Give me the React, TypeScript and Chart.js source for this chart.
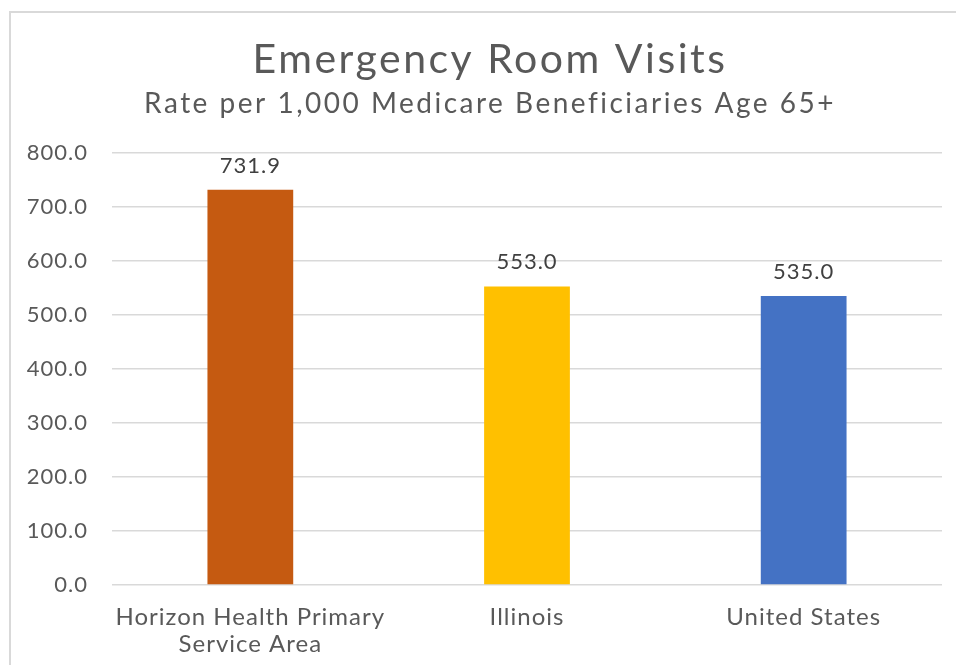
import React, { useEffect, useRef } from "react";
import { Chart, registerables } from "chart.js";

Chart.register(...registerables);

const categories: (string | string[])[] = [
  ["Horizon Health Primary", "Service Area"],
  "Illinois",
  "United States",
];
const values: number[] = [731.9, 553.0, 535.0];
const barColors: string[] = ["#C55A11", "#FFC000", "#4472C4"];
const titleText = "Emergency Room Visits";
const subtitleText = "Rate per 1,000 Medicare Beneficiaries Age 65+";
const yMin = 0;
const yMax = 800;
const yStep = 100;

const FONT = "Lato, 'Open Sans', sans-serif";

const spacingPlugin = {
  id: "spacing",
  beforeDraw(chart: any) {
    (chart.ctx as any).letterSpacing = "1px";
  },
};

const titlePlugin = {
  id: "customTitles",
  afterDraw(chart: any) {
    const ctx = chart.ctx;
    const cx = chart.width / 2 + 12;
    ctx.save();
    ctx.fillStyle = "#595959";
    ctx.textAlign = "center";
    ctx.textBaseline = "alphabetic";
    ctx.font = `41px ${FONT}`;
    (ctx as any).letterSpacing = "2.5px";
    ctx.fillText(titleText, cx, 73);
    ctx.font = `28px ${FONT}`;
    (ctx as any).letterSpacing = "2.5px";
    ctx.fillText(subtitleText, cx, 113);
    ctx.restore();
  },
};

const dataLabelPlugin = {
  id: "dataLabels",
  afterDatasetsDraw(chart: any) {
    const ctx = chart.ctx;
    const meta = chart.getDatasetMeta(0);
    const ds = chart.data.datasets[0];
    ctx.save();
    ctx.font = `22px ${FONT}`;
    ctx.fillStyle = "#404040";
    ctx.textAlign = "center";
    ctx.textBaseline = "middle";
    (ctx as any).letterSpacing = "1px";
    meta.data.forEach((el: any, i: number) => {
      const v = ds.data[i] as number;
      ctx.fillText(v.toFixed(1), el.x, el.y - 24);
    });
    ctx.restore();
  },
};

export default function App() {
  const ref = useRef<HTMLCanvasElement | null>(null);

  useEffect(() => {
    document.body.style.overflow = "hidden";
    const chart = new Chart(ref.current as HTMLCanvasElement, {
      type: "bar",
      data: {
        labels: categories,
        datasets: [
          {
            data: values,
            backgroundColor: barColors,
            borderWidth: 0,
            barPercentage: 0.31,
            categoryPercentage: 1,
          },
        ],
      },
      options: {
        responsive: false,
        animation: false,
        devicePixelRatio: 1,
        layout: { padding: { top: 153, left: 10, right: 14, bottom: 0 } },
        plugins: {
          legend: { display: false },
          tooltip: { enabled: false },
          title: { display: false },
          subtitle: { display: false },
        },
        scales: {
          x: {
            grid: { display: false, drawTicks: false },
            border: { display: false },
            ticks: {
              color: "#595959",
              font: { family: FONT, size: 24, lineHeight: 1.15 },
              padding: 18,
              maxRotation: 0,
              autoSkip: false,
            },
            afterFit(scale: any) {
              scale.height = 80;
            },
          },
          y: {
            min: yMin,
            max: yMax,
            grid: { color: "#d9d9d9", lineWidth: 1.5, drawTicks: false },
            border: { display: false },
            ticks: {
              stepSize: yStep,
              color: "#595959",
              font: { family: FONT, size: 22 },
              padding: 24,
              callback: (v: any) => Number(v).toFixed(1),
            },
            afterFit(scale: any) {
              scale.width = 102;
            },
          },
        },
      },
      plugins: [spacingPlugin, titlePlugin, dataLabelPlugin],
    });
    return () => chart.destroy();
  }, []);

  return (
    <div style={{ position: "fixed", left: 0, top: 0, width: 956, height: 665, background: "#fff" }}>
      <div
        style={{
          position: "absolute",
          left: 9,
          top: 11,
          width: 947,
          height: 654,
          borderTop: "2px solid #d9d9d9",
          borderLeft: "2px solid #d9d9d9",
          boxSizing: "border-box",
        }}
      />
      <canvas
        ref={ref}
        width={956}
        height={665}
        style={{ position: "absolute", left: 0, top: 0, width: 956, height: 665 }}
      />
    </div>
  );
}
